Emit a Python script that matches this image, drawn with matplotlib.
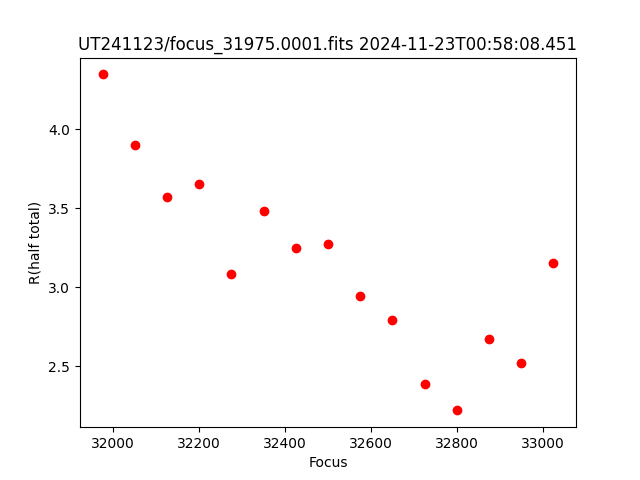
import matplotlib
matplotlib.use('Agg')
import matplotlib.pyplot as plt

# focus positions and measured radius
focus = [31975, 32050, 32125, 32200, 32275, 32350, 32425, 32500,
         32575, 32650, 32725, 32800, 32875, 32950, 33025]
radius = [4.348, 3.899, 3.570, 3.652, 3.082, 3.481, 3.247, 3.278,
          2.943, 2.791, 2.386, 2.222, 2.671, 2.525, 3.152]

title = 'UT241123/focus_31975.0001.fits 2024-11-23T00:58:08.451'

fig = plt.figure(figsize=(6.4, 4.8), dpi=100)
plt.plot(focus, radius, 'ro')
plt.xlabel('Focus')
plt.ylabel('R(half total)')
plt.title(title)
plt.savefig('out.png')
